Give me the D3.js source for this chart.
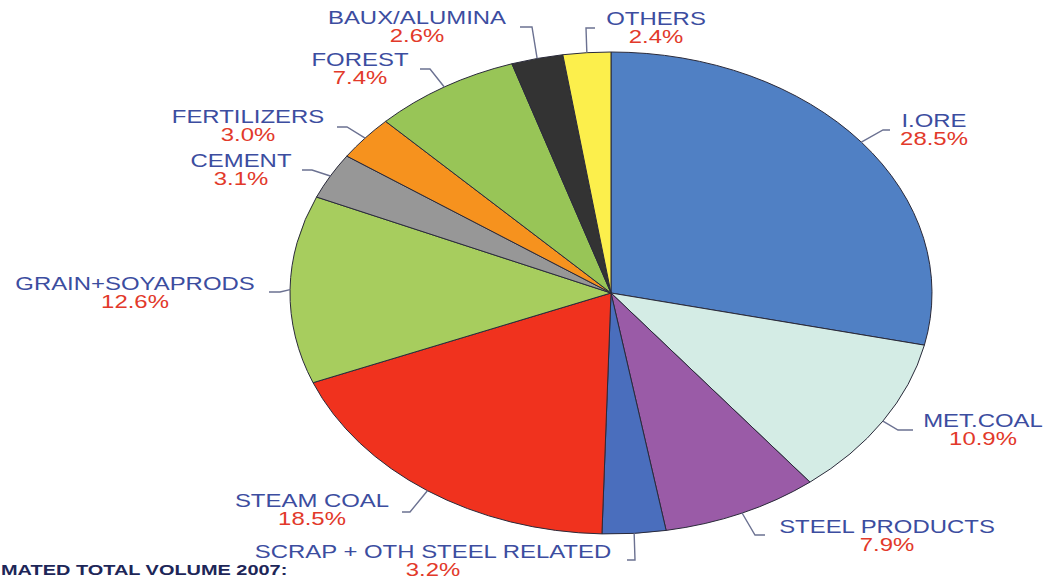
<!DOCTYPE html>
<html>
<head>
<meta charset="utf-8">
<script src="https://cdn.jsdelivr.net/npm/d3@7"></script>
<style>
  html, body { margin: 0; padding: 0; background: #fff; }
  svg { display: block; }
</style>
</head>
<body>
<div id="chart"></div>
<script>
const categories = ["I.ORE", "MET.COAL", "STEEL PRODUCTS", "SCRAP + OTH STEEL RELATED", "STEAM COAL",
  "GRAIN+SOYAPRODS", "CEMENT", "FERTILIZERS", "FOREST", "BAUX/ALUMINA", "OTHERS"];
const shares = [28.5, 10.9, 7.9, 3.2, 18.5, 12.6, 3.1, 3.0, 7.4, 2.6, 2.4];
const palette = ["#5080c4", "#d4ece5", "#9a5ba7", "#4a6ebd", "#f0321e",
  "#a7cd5e", "#979797", "#f6921e", "#98c557", "#333333", "#fcef4c"];
const footerText = "MATED TOTAL VOLUME 2007:";

const width = 1050, height = 580;
const cx = 611, cy = 293;
const ry = 241, rx = 321;
const stretch = 1.33; // source image is stretched horizontally

// label placement: text centre x, name baseline, leader elbow and end
const labelLayout = {
  "I.ORE": { x: 934, y: 127, elbow: [883, 130], end: [890, 130] },
  "MET.COAL": { x: 983, y: 427, elbow: [898, 430], end: [913, 430] },
  "STEEL PRODUCTS": { x: 887, y: 533, elbow: [755, 535], end: [765, 535] },
  "SCRAP + OTH STEEL RELATED": { x: 433, y: 558, elbow: [635, 560], end: [627, 560] },
  "STEAM COAL": { x: 312, y: 507, elbow: [410, 512], end: [402, 512] },
  "GRAIN+SOYAPRODS": { x: 135, y: 290, elbow: [280, 292], end: [269, 292] },
  "CEMENT": { x: 241, y: 167, elbow: [312, 170], end: [302, 170] },
  "FERTILIZERS": { x: 248, y: 123, elbow: [347, 127], end: [337, 127] },
  "FOREST": { x: 360, y: 66, elbow: [430, 69], end: [420, 69] },
  "BAUX/ALUMINA": { x: 417, y: 24, elbow: [532, 27], end: [520, 27] },
  "OTHERS": { x: 656, y: 25, elbow: [586, 28], end: [595, 28] }
};

const data = categories.map((c, i) => ({ name: c, value: shares[i], color: palette[i] }));

const svg = d3.select("#chart").append("svg")
  .attr("width", width)
  .attr("height", height);

const pie = d3.pie().sort(null).value(d => d.value);
const arcs = pie(data);

const arc = d3.arc().innerRadius(0).outerRadius(ry);

const pieGroup = svg.append("g")
  .attr("transform", `translate(${cx},${cy}) scale(${rx / ry},1)`);

pieGroup.selectAll("path")
  .data(arcs)
  .enter().append("path")
  .attr("d", arc)
  .attr("fill", d => d.data.color)
  .attr("stroke", "#2a2a3a")
  .attr("stroke-width", 1)
  .attr("vector-effect", "non-scaling-stroke");

// leader lines start at the slice's mid angle on the rim
const leader = d3.line();
svg.append("g").selectAll("path")
  .data(arcs)
  .enter().append("path")
  .attr("d", d => {
    const a = (d.startAngle + d.endAngle) / 2;
    const rim = [cx + rx * Math.sin(a), cy - ry * Math.cos(a)];
    const L = labelLayout[d.data.name];
    return leader([rim, L.elbow, L.end]);
  })
  .attr("fill", "none")
  .attr("stroke", "#6b7191")
  .attr("stroke-width", 1.4);

const labels = svg.append("g")
  .style("font-family", "'Liberation Sans', Arial, sans-serif")
  .style("font-size", "18px");

arcs.forEach(d => {
  const L = labelLayout[d.data.name];
  labels.append("text")
    .attr("transform", `translate(${L.x},${L.y}) scale(${stretch},1)`)
    .attr("text-anchor", "middle")
    .attr("fill", "#3c4d9f")
    .text(d.data.name);
  labels.append("text")
    .attr("transform", `translate(${L.x},${L.y + 18}) scale(${stretch},1)`)
    .attr("text-anchor", "middle")
    .attr("fill", "#e2392a")
    .text(d.data.value.toFixed(1) + "%");
});

svg.append("text")
  .attr("transform", `translate(1,575) scale(${stretch},1)`)
  .style("font-family", "'Liberation Sans', Arial, sans-serif")
  .style("font-size", "15px")
  .style("font-weight", "bold")
  .attr("fill", "#1d2658")
  .text(footerText);
</script>
</body>
</html>
